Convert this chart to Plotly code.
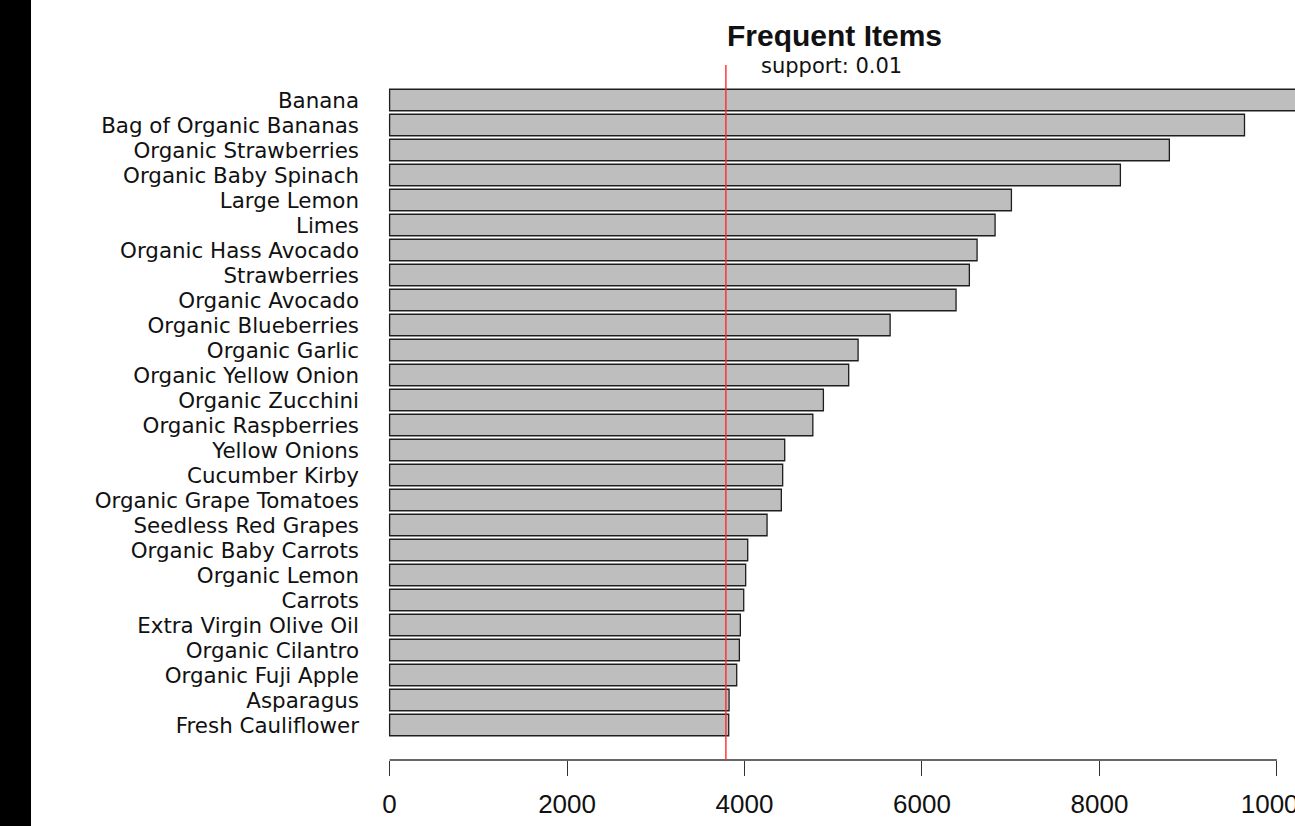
import plotly.graph_objects as go

# ---------------- data ----------------
ITEMS = [
    "Banana", "Bag of Organic Bananas", "Organic Strawberries", "Organic Baby Spinach",
    "Large Lemon", "Limes", "Organic Hass Avocado", "Strawberries", "Organic Avocado",
    "Organic Blueberries", "Organic Garlic", "Organic Yellow Onion", "Organic Zucchini",
    "Organic Raspberries", "Yellow Onions", "Cucumber Kirby", "Organic Grape Tomatoes",
    "Seedless Red Grapes", "Organic Baby Carrots", "Organic Lemon", "Carrots",
    "Extra Virgin Olive Oil", "Organic Cilantro", "Organic Fuji Apple", "Asparagus",
    "Fresh Cauliflower",
]
COUNTS = [
    11000, 9635, 8788, 8236, 7008, 6824, 6621, 6534, 6384, 5641, 5280, 5174, 4889,
    4770, 4453, 4430, 4415, 4254, 4036, 4013, 3991, 3953, 3942, 3912, 3826, 3822,
]
SUPPORT_COUNT = 3790          # 0.01 support threshold
X_TICKS = [0, 2000, 4000, 6000, 8000, 10000]
X_TICK_TEXT = ["0", "2000", "4000", "6000", "8000", "10000"]
TITLE = "Frequent Items"
SUBTITLE = "support: 0.01"

# ---------------- layout geometry ----------------
W, H = 1295, 826
ML, MR, MT, MB = 388, 0, 65, 66
PW, PH = W - ML - MR, H - MT - MB


def px_x(p):
    return (p - ML) / PW


def px_y(p):
    return 1 - (p - MT) / PH


n = len(ITEMS)

fig = go.Figure()
fig.add_trace(go.Bar(
    orientation="h",
    y=ITEMS,
    x=COUNTS,
    marker=dict(color="#bebebe", line=dict(color="#1e1e1e", width=1.3)),
    hoverinfo="x+y",
))

shapes = [
    # x axis line only over tick span (R style)
    dict(type="line", xref="x", yref="paper", x0=X_TICKS[0], x1=X_TICKS[-1], y0=0, y1=0,
         line=dict(color="#333333", width=1.3), layer="above"),
    # support threshold line
    dict(type="line", xref="x", yref="paper", x0=SUPPORT_COUNT, x1=SUPPORT_COUNT, y0=0, y1=1,
         line=dict(color="#ff2b2b", width=1.4), layer="above"),
    # black strip on the left edge
    dict(type="rect", xref="paper", yref="paper", x0=px_x(-5), x1=px_x(31),
         y0=px_y(H + 5), y1=px_y(-5), fillcolor="black", line=dict(width=0), layer="above"),
]

annotations = [
    dict(text="<b>" + TITLE + "</b>", xref="paper", yref="paper", x=px_x(834.3), y=px_y(36),
         xanchor="center", yanchor="middle", showarrow=False,
         font=dict(family="Liberation Sans", size=30, color="#111111")),
    dict(text=SUBTITLE, xref="paper", yref="paper", x=px_x(831), y=px_y(66),
         xanchor="center", yanchor="middle", showarrow=False,
         font=dict(family="DejaVu Sans", size=21, color="#111111")),
]

fig.update_layout(
    template="none",
    width=W, height=H,
    margin=dict(l=ML, r=MR, t=MT, b=MB, pad=0, autoexpand=False),
    paper_bgcolor="white", plot_bgcolor="white",
    bargap=0.14,
    showlegend=False,
    shapes=shapes,
    annotations=annotations,
    xaxis=dict(
        range=[-18, 10204], automargin=False,
        tickmode="array", tickvals=X_TICKS, ticktext=X_TICK_TEXT,
        ticks="outside", ticklen=15, tickwidth=1.3, tickcolor="#333333",
        showgrid=False, zeroline=False, showline=False,
        tickfont=dict(family="Liberation Sans", size=26, color="#111111"),
        ticklabelstandoff=6, ticklabeloverflow="allow",
    ),
    yaxis=dict(
        type="category", categoryorder="array", categoryarray=ITEMS,
        tickmode="array", tickvals=ITEMS, ticktext=ITEMS,
        range=[n - 1 + 1.4, -1.4], automargin=False,
        ticks="", showgrid=False, zeroline=False, showline=False,
        tickfont=dict(family="DejaVu Sans", size=21.4, color="#111111"),
        ticklabelstandoff=28,
    ),
)

fig.write_html(
    "out.html",
    config={"displayModeBar": False},
    post_script="document.body.style.margin='0px';document.body.style.overflow='hidden';",
)
